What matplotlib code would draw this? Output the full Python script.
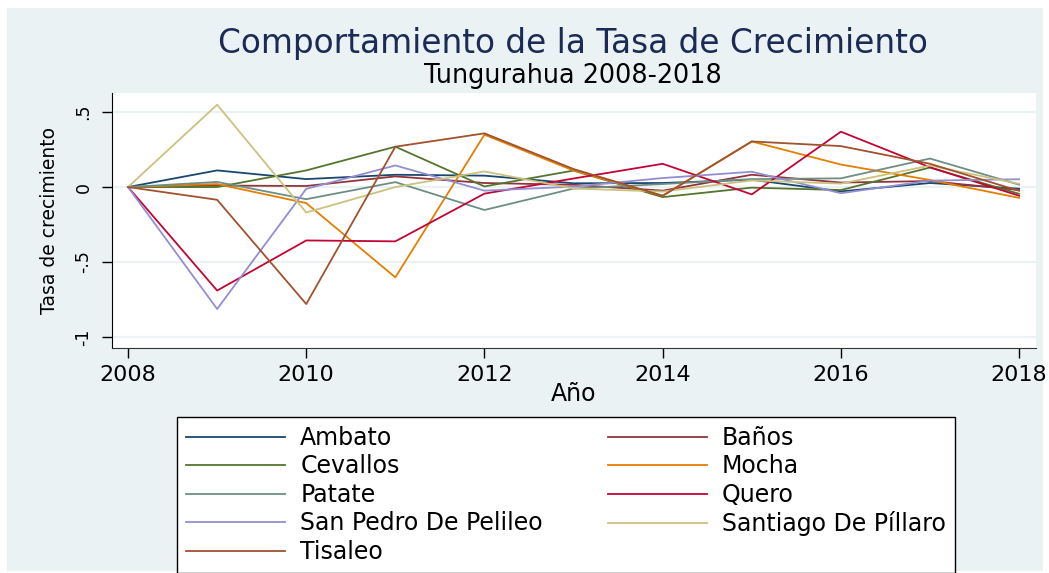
import matplotlib
matplotlib.use("Agg")
import matplotlib.pyplot as plt
from matplotlib.patches import Rectangle

plt.rcParams["font.family"] = ["DejaVu Sans"]

BG = "#eaf2f3"

years = list(range(2008, 2019))

ambato = [0, 0.111, 0.053, 0.082, 0.076, 0.025, 0.027, 0.049, -0.029, 0.027, -0.011]
banos = [0, 0.010, 0.007, 0.071, 0.027, 0.015, -0.024, 0.082, 0.030, 0.040, -0.020]
cevallos = [0, 0.000, 0.111, 0.269, 0.004, 0.110, -0.067, -0.004, -0.020, 0.130, -0.045]
mocha = [0, 0.020, -0.107, -0.602, 0.349, 0.110, -0.058, 0.304, 0.150, 0.047, -0.072]
patate = [0, 0.034, -0.081, 0.033, -0.153, -0.010, 0.020, 0.053, 0.058, 0.190, 0.016]
quero = [0, -0.690, -0.356, -0.362, -0.044, 0.057, 0.155, -0.049, 0.369, 0.132, -0.058]
pelileo = [0, -0.813, -0.012, 0.144, -0.024, 0.003, 0.060, 0.102, -0.041, 0.043, 0.052]
pillaro = [0, 0.549, -0.170, 0.000, 0.104, -0.010, -0.030, 0.044, 0.023, 0.143, 0.022]
tisaleo = [0, -0.085, -0.780, 0.269, 0.358, 0.120, -0.058, 0.304, 0.273, 0.155, -0.025]

series = [
    ("Ambato", ambato, "#1a476f"),
    ("Baños", banos, "#90353b"),
    ("Cevallos", cevallos, "#55752f"),
    ("Mocha", mocha, "#e37e00"),
    ("Patate", patate, "#6e8e84"),
    ("Quero", quero, "#c10534"),
    ("San Pedro De Pelileo", pelileo, "#938dd2"),
    ("Santiago De Píllaro", pillaro, "#cac27e"),
    ("Tisaleo", tisaleo, "#a0522d"),
]

W, H = 1049, 573
fig = plt.figure(figsize=(W / 100, H / 100), dpi=100, facecolor="white")
# light Stata-style graph region inside a thin white margin
fig.patches.append(Rectangle((7 / W, 2 / H), 1036 / W, 563 / H,
                             transform=fig.transFigure, facecolor=BG,
                             edgecolor="none", zorder=-10))

ax = fig.add_axes([112 / W, 1 - 348 / H, 924 / W, 255 / H])
ax.set_facecolor("white")

handles = {}
for name, vals, color in series:
    (ln,) = ax.plot(years, vals, color=color, lw=1.3, label=name)
    handles[name] = ln

ax.set_xlim(2007.82, 2018.19)
ax.set_ylim(-1.073, 0.627)
ax.set_xticks([2008, 2010, 2012, 2014, 2016, 2018])
ax.set_yticks([-1, -0.5, 0, 0.5])
ax.set_yticklabels(["-1", "-.5", "0", ".5"], rotation=90, va="center")
ax.tick_params(axis="x", labelsize=16, length=7, width=1, pad=5)
ax.tick_params(axis="y", labelsize=12.5, length=7, width=1, pad=7)

ax.grid(axis="y", color=BG, lw=1.6)
ax.set_axisbelow(True)
for s in ("top", "right"):
    ax.spines[s].set_visible(False)
ax.spines["left"].set_color("black")
ax.spines["bottom"].set_color("#333333")

ax.set_xlabel("Año", fontsize=17)
ax.xaxis.set_label_coords(0.5, -0.135)
ax.set_ylabel("Tasa de crecimiento", fontsize=13.5)
ax.yaxis.set_label_coords(-0.057, 0.5)

fig.text(573 / W, 1 - 53 / H, "Comportamiento de la Tasa de Crecimiento",
         ha="center", va="baseline", fontsize=23.6, color="#1c2b55")
fig.text(573 / W, 1 - 83 / H, "Tungurahua 2008-2018",
         ha="center", va="baseline", fontsize=18.4, color="black")

# Stata fills the legend row by row; matplotlib fills column by column
order = ["Ambato", "Cevallos", "Patate", "San Pedro De Pelileo", "Tisaleo",
         "Baños", "Mocha", "Quero", "Santiago De Píllaro"]
leg = fig.legend([handles[n] for n in order], order, ncol=2,
                 loc="upper left", bbox_to_anchor=(177 / W, 1 - 417 / H),
                 fontsize=17, handlelength=4.2, handletextpad=0.64,
                 columnspacing=2.75, labelspacing=0.19, borderpad=0.38,
                 borderaxespad=0, frameon=True, fancybox=False)
leg.get_frame().set_edgecolor("black")
leg.get_frame().set_linewidth(1.0)
leg.get_frame().set_facecolor("white")
leg.get_frame().set_alpha(1)

fig.savefig("out.png", dpi=100, facecolor=fig.get_facecolor())
